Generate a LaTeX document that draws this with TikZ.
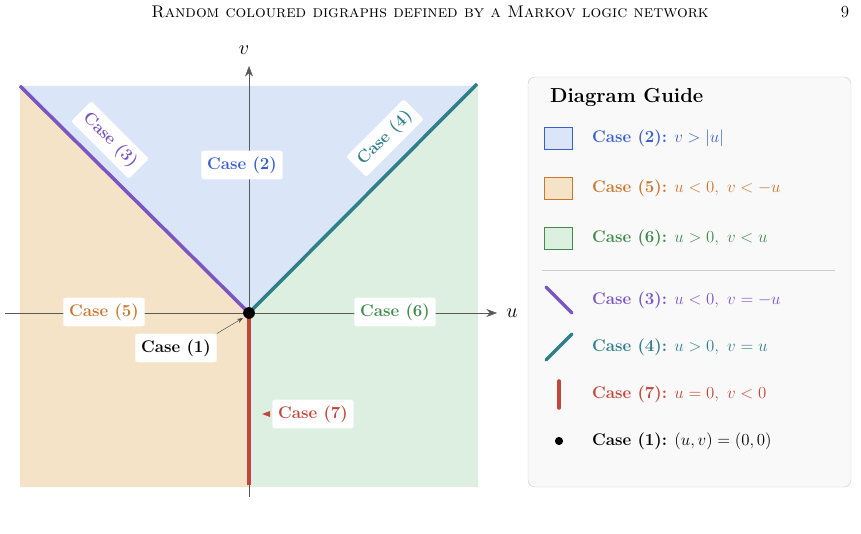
\documentclass[tikz,border=0pt]{standalone}
\usetikzlibrary{arrows.meta,positioning}
\definecolor{bluefill}{HTML}{DAE6F7}
\definecolor{bluetext}{HTML}{3A5FCD}
\definecolor{orfill}{HTML}{F5E3C8}
\definecolor{ortext}{HTML}{C9762F}
\definecolor{grfill}{HTML}{DCEFE0}
\definecolor{grtext}{HTML}{3F8A4C}
\definecolor{purp}{HTML}{7B55C0}
\definecolor{teal2}{HTML}{2F7F8A}
\definecolor{redl}{HTML}{C0473A}
\tikzset{
  tag/.style={fill=white,rounded corners=2pt,inner sep=5pt,font=\Large\bfseries},
  gtext/.style={anchor=west,font=\Large}
}
\begin{document}
\begin{tikzpicture}[x=0.03cm,y=-0.03cm]
                \useasboundingbox (0,0) rectangle (861,534);
                \node (head) at (430,12) {\Large\textsc{Random coloured digraphs defined by a Markov logic network}};
                \node (pnum) at (845,12) {\Large 9};
                % regions
                \fill [bluefill] (20,86)--(478,86)--(249,313)--cycle;
                \fill [orfill] (20,86)--(249,313)--(249,487)--(20,487)--cycle;
                \fill [grfill] (478,86)--(249,313)--(249,487)--(478,487)--cycle;
                % axes
                \coordinate (o) at (249,313);
                \coordinate (xl) at (5,313);
                \coordinate (xr) at (497,313);
                \coordinate (yb) at (249,497);
                \coordinate (yt) at (249,66);
                \draw [-{Stealth[length=9pt]},gray!70!black] (xl)--(xr);
                \draw [-{Stealth[length=9pt]},gray!70!black] (yb)--(yt);
                \node (ulab) at (512,313) {\LARGE$u$};
                \node (vlab) at (244,50) {\LARGE$v$};
                % boundary lines
                \coordinate (pl) at (20,86);
                \coordinate (tr) at (477,84);
                \coordinate (rb) at (249,485);
                \draw [purp,line width=3pt] (pl)--(o);
                \draw [teal2,line width=3pt] (o)--(tr);
                \draw [redl,line width=3pt] (o)--(rb);
                \fill (o) circle (5pt);
                % labels
                \node [tag,text=bluetext] (c2) at (242,165) {Case (2)};
                \node [tag,text=purp,rotate=-45] (c3) at (110,140) {Case (3)};
                \node [tag,text=teal2,rotate=45] (c4) at (385,138) {Case (4)};
                \node [tag,text=ortext] (c5) at (104,312) {Case (5)};
                \node [tag,text=grtext] (c6) at (395,312) {Case (6)};
                \node [tag] (c1) at (176,348) {Case (1)};
                \node [tag,text=redl] (c7) at (313,414) {Case (7)};
                \draw [-{Stealth[length=5pt]},gray!60!black] (c1.north east)--(243,318);
                \fill [redl] (c7.west)++(-10,0)--++(8,-3)--++(0,6)--cycle;
                % guide
                \draw [gray!40,fill=gray!5,rounded corners=6pt] (528,77) rectangle (851,487);
                \node [anchor=west,font=\LARGE\bfseries] (gt) at (546,97) {Diagram Guide};
                \draw [bluetext,fill=bluefill] (544,127) rectangle (572,149);
                \draw [ortext,fill=orfill] (544,177) rectangle (572,199);
                \draw [grtext,fill=grfill] (544,227) rectangle (572,249);
                \node [gtext,text=bluetext] (g2) at (588,138) {\textbf{Case (2):} $v>|u|$};
                \node [gtext,text=ortext] (g5) at (588,188) {\textbf{Case (5):} $u<0,\ v<-u$};
                \node [gtext,text=grtext] (g6) at (588,238) {\textbf{Case (6):} $u>0,\ v<u$};
                \draw [gray!40] (542,270)--(835,270);
                \draw [purp,line width=3pt,line cap=round] (546,287)--(572,313);
                \draw [teal2,line width=3pt,line cap=round] (546,360)--(572,334);
                \draw [redl,line width=3pt,line cap=round] (559,381)--(559,408);
                \fill (559,441) circle (3.5pt);
                \node [gtext,text=purp] (g3) at (588,300) {\textbf{Case (3):} $u<0,\ v=-u$};
                \node [gtext,text=teal2] (g4) at (588,347) {\textbf{Case (4):} $u>0,\ v=u$};
                \node [gtext,text=redl] (g7) at (588,394) {\textbf{Case (7):} $u=0,\ v<0$};
                \node [gtext] (g1) at (588,441) {\textbf{Case (1):} $(u,v)=(0,0)$};
            \end{tikzpicture}
\end{document}
